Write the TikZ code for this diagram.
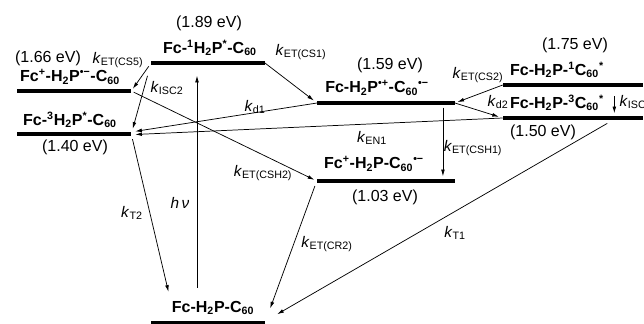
\documentclass[tikz,border=0pt]{standalone}
\usepackage{fontspec}
\setmainfont{Liberation Sans}
\usetikzlibrary{arrows.meta}
\newcommand{\rate}[1]{\textit{k}\textsubscript{#1}}
\tikzset{
  level/.style={fill=black, inner sep=0pt, minimum height=2.7pt},
  state/.style={font=\fontsize{12}{14}\bfseries\selectfont, inner sep=1pt},
  energy/.style={font=\fontsize{12}{14}\selectfont, inner sep=1pt},
  rlab/.style={inner sep=1pt},
  arr/.style={-{Latex[length=5pt,width=2.8pt]}, line width=0.55pt},
}

\begin{document}
\begin{tikzpicture}[x=0.75pt, y=-0.75pt, font=\fontsize{11.5}{13}\selectfont]
  \useasboundingbox (0,0) rectangle (644,324);
  % energy levels
  \node[level, minimum width=85pt]   (s1)  at (208,63)  {};
  \node[level, minimum width=85.5pt] (cs5) at (74,91)   {};
  \node[level, minimum width=85.5pt] (t1)  at (74,134)  {};
  \node[level, minimum width=103pt]  (rp)  at (386,103) {};
  \node[level, minimum width=105pt]  (c1)  at (573,85)  {};
  \node[level, minimum width=105pt]  (c3)  at (573,118) {};
  \node[level, minimum width=103.5pt] (csh) at (386,181) {};
  \node[level, minimum width=86pt]   (gnd) at (208,323) {};
  % state names
  \node[state] (s1l)  at (210,48)  {Fc-\textsuperscript{1}H\textsubscript{2}P\textsuperscript{*}-C\textsubscript{60}};
  \node[state] (cs5l) at (70,77)   {Fc\textsuperscript{+}-H\textsubscript{2}P\textsuperscript{•−}-C\textsubscript{60}};
  \node[state] (t1l)  at (70,120)  {Fc-\textsuperscript{3}H\textsubscript{2}P\textsuperscript{*}-C\textsubscript{60}};
  \node[state] (rpl)  at (377,88)  {Fc-H\textsubscript{2}P\textsuperscript{•+}-C\textsubscript{60}\textsuperscript{•−}};
  \node[state] (c1l)  at (557,70)  {Fc-H\textsubscript{2}P-\textsuperscript{1}C\textsubscript{60}\textsuperscript{*}};
  \node[state] (c3l)  at (557,103) {Fc-H\textsubscript{2}P-\textsuperscript{3}C\textsubscript{60}\textsuperscript{*}};
  \node[state] (cshl) at (374,164) {Fc\textsuperscript{+}-H\textsubscript{2}P-C\textsubscript{60}\textsuperscript{•−}};
  \node[state] (gl)   at (213,308) {Fc-H\textsubscript{2}P-C\textsubscript{60}};
  % energies
  \node[energy] (e1) at (209,23)  {(1.89 eV)};
  \node[energy] (e2) at (48,58)   {(1.66 eV)};
  \node[energy] (e3) at (75,147)  {(1.40 eV)};
  \node[energy] (e4) at (390,65)  {(1.59 eV)};
  \node[energy] (e5) at (575,45)  {(1.75 eV)};
  \node[energy] (e6) at (543,132) {(1.50 eV)};
  \node[energy] (e7) at (385,197) {(1.03 eV)};
  % transitions
  \draw[arr, shorten <=9pt, shorten >=8pt] ([xshift=-12pt]gl.north) -- ([xshift=-12pt]gl.north |- s1.south);
  \draw[arr, shorten >=3pt] (s1.east) -- (rp.west);
  \draw[arr, shorten <=3pt, shorten >=2pt] (s1.west) -- (cs5.east);
  \draw[arr, shorten <=10pt, shorten >=4pt] (s1.west) -- (t1.east);
  \draw[arr, shorten >=3pt] (rp.west) -- ([yshift=1.5pt]t1.east);
  \draw[arr, shorten >=3pt] (c3.west) -- ([yshift=-0.5pt]t1.east);
  \draw[arr, shorten <=2pt, shorten >=2pt] (cs5.east) -- (csh.west);
  \draw[arr, shorten <=2pt, shorten >=2pt] ([xshift=-9pt]rp.south east) -- ([xshift=-9pt]rp.south east |- csh.north);
  \draw[arr, shorten >=2pt] (c1.west) -- (rp.east);
  \draw[arr, shorten >=3pt] (rp.east) -- (c3.west);
  \draw[arr, shorten <=7pt, shorten >=2pt] ([xshift=31pt]c1.south) -- ([xshift=31pt]c3.north);
  \draw[arr, shorten <=5pt, shorten >=10pt] ([xshift=30pt]c3.south) -- (gnd.north east);
  \draw[arr, shorten <=4pt, shorten >=6pt] (t1.east) -- (gl.north west);
  \draw[arr, shorten <=4pt, shorten >=10pt] (csh.west) -- (gnd.north east);
  % rate labels
  \node[rlab] (hv)   at (180,203) {\textit{h}\,\textit{ν}};
  \node[rlab] (kcs1) at (301,52)  {\rate{ET(CS1)}};
  \node[rlab] (kcs5) at (118,60)  {\rate{ET(CS5)}};
  \node[rlab] (kisc2) at (167,88) {\rate{ISC2}};
  \node[rlab] (kd1)  at (255,107) {\rate{d1}};
  \node[rlab] (ken1) at (372,138) {\rate{EN1}};
  \node[rlab] (kcsh2) at (263,173) {\rate{ET(CSH2)}};
  \node[rlab] (kcsh1) at (473,148) {\rate{ET(CSH1)}};
  \node[rlab] (kcs2) at (478,75)  {\rate{ET(CS2)}};
  \node[rlab] (kd2)  at (498,102) {\rate{d2}};
  \node[rlab, anchor=west] (kisc1) at (618,102) {\rate{ISC1}};
  \node[rlab] (kt1)  at (455,233) {\rate{T1}};
  \node[rlab] (kt2)  at (132,213) {\rate{T2}};
  \node[rlab] (kcr2) at (327,244) {\rate{ET(CR2)}};
\end{tikzpicture}
\end{document}
